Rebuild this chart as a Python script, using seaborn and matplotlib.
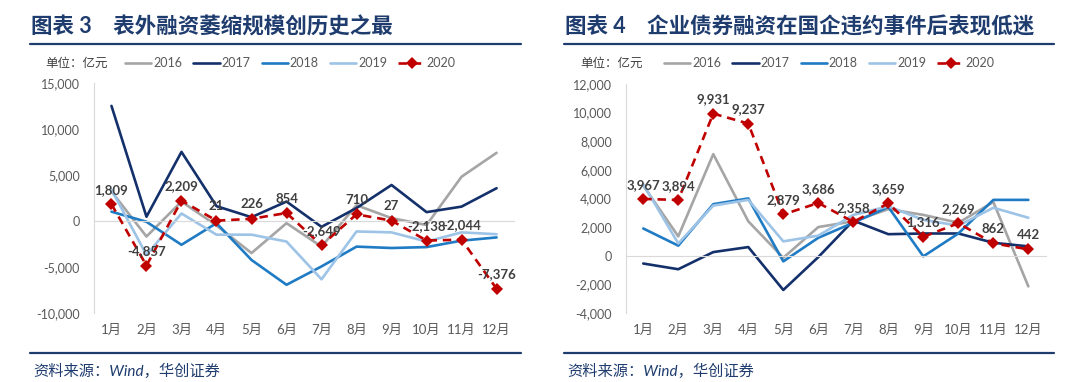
import matplotlib
matplotlib.use("Agg")
import matplotlib.pyplot as plt
from matplotlib.lines import Line2D
import seaborn as sns
import pandas as pd

# months on the category axis
months = ["1月", "2月", "3月", "4月", "5月", "6月", "7月", "8月", "9月", "10月", "11月", "12月"]
years = ["2016", "2017", "2018", "2019", "2020"]

# chart 3: off-balance-sheet financing (亿元)
off_2016 = [3200, -1700, 2100, -500, -3500, -250, -2800, 1700, 300, -450, 4800, 7400]
off_2017 = [12500, 450, 7500, 1600, 400, 2100, -650, 1400, 3900, 950, 1550, 3550]
off_2018 = [1000, -100, -2600, -250, -4250, -6950, -4950, -2800, -2950, -2850, -2150, -1800]
off_2019 = [3400, -3700, 800, -1500, -1500, -2250, -6350, -1150, -1250, -2250, -1250, -1450]
off_2020 = [1809, -4857, 2209, 21, 226, 854, -2649, 710, 27, -2138, -2044, -7376]

# chart 4: corporate bond financing (亿元)
bond_2016 = [4900, 1350, 7100, 2400, -150, 2000, 2400, 3250, 2850, 2300, 3750, -2150]
bond_2017 = [-550, -950, 250, 600, -2400, -100, 2450, 1500, 1550, 1550, 900, 650]
bond_2018 = [1900, 700, 3600, 4000, -400, 1250, 2300, 3400, -50, 1550, 3900, 3900]
bond_2019 = [5000, 850, 3500, 3900, 1000, 1400, 2850, 3450, 2500, 2100, 3350, 2650]
bond_2020 = [3967, 3894, 9931, 9237, 2879, 3686, 2358, 3659, 1316, 2269, 862, 442]

colors = {"2016": "#A5A5A5", "2017": "#14306B", "2018": "#1F7BC4",
          "2019": "#9DC3E6", "2020": "#C00000"}

sns.set_style("white")
plt.rcParams["font.family"] = ["Lato", "Noto Sans CJK SC", "DejaVu Sans"]
plt.rcParams["axes.unicode_minus"] = False

fig = plt.figure(figsize=(10.8, 3.82), dpi=100)

navy = "#1F3C6E"
grey_txt = "#595959"


def draw_panel(rect, series, ylim, yticks, title, unit_x, legend_x, title_x, line_x):
    ax = fig.add_axes(rect)
    idx = list(range(len(months)))
    for yr, vals in zip(years, series):
        df = pd.DataFrame({"m": idx, "v": vals})
        if yr == "2020":
            sns.lineplot(data=df, x="m", y="v", ax=ax, color=colors[yr], lw=1.9,
                         marker="D", markersize=6.5, markeredgewidth=0,
                         dashes=False, sort=False, label=yr, zorder=5)
            ax.lines[-1].set_dashes([3.2, 2.2])
            for i, v in zip(idx, vals):
                ax.annotate(f"{v:,}", (i, v), xytext=(0, 6), textcoords="offset points",
                            ha="center", va="bottom", fontsize=9.5, fontweight="bold",
                            color="#404040", zorder=6)
        else:
            sns.lineplot(data=df, x="m", y="v", ax=ax, color=colors[yr], lw=1.9,
                         sort=False, label=yr)

    ax.set_xlim(-0.5, len(months) - 0.5)
    ax.set_ylim(*ylim)
    ax.set_yticks(yticks)
    ax.set_yticklabels([f"{t:,}" for t in yticks])
    ax.tick_params(axis="y", length=0, pad=10, labelsize=9, labelcolor=grey_txt)
    ax.set_xlabel("")
    ax.set_ylabel("")

    # category axis sits on zero, with tick marks between months
    ax.spines["bottom"].set_position(("data", 0))
    ax.spines["bottom"].set_color("#D9D9D9")
    ax.spines["left"].set_color("#D9D9D9")
    ax.spines["top"].set_visible(False)
    ax.spines["right"].set_visible(False)
    ax.set_xticks([i + 0.5 for i in idx[:-1]])
    ax.tick_params(axis="x", length=4, color="#D9D9D9", labelbottom=False)

    sec = ax.secondary_xaxis("bottom")
    sec.set_xticks(idx)
    sec.set_xticklabels(months)
    sec.tick_params(length=0, pad=8, labelsize=9.5, labelcolor=grey_txt)
    sec.spines["bottom"].set_visible(False)

    ax.legend(loc="center left", bbox_to_anchor=(legend_x, 0.835),
              bbox_transform=fig.transFigure, ncol=5, frameon=False, fontsize=9,
              handlelength=2.1, handletextpad=0.15, columnspacing=0.9,
              borderpad=0, borderaxespad=0, labelcolor=grey_txt)

    fig.text(unit_x, 0.835, "单位：亿元", fontsize=9, color="#404040", va="center")
    fig.text(title_x, 0.929, title, fontsize=15.5, fontweight="bold", color=navy,
             va="center")
    fig.add_artist(Line2D(line_x, [0.885, 0.885], color=navy, lw=1.6))
    fig.add_artist(Line2D(line_x, [0.075, 0.075], color=navy, lw=1.6))
    fig.text(title_x + 0.002, 0.027, "资料来源：Wind，华创证券", fontsize=11,
             color=navy, va="center", style="italic")
    return ax


draw_panel([0.087, 0.181, 0.389, 0.602],
           [off_2016, off_2017, off_2018, off_2019, off_2020],
           (-10000, 15000), [-10000, -5000, 0, 5000, 10000, 15000],
           "图表 3　表外融资萎缩规模创历史之最", 0.042, 0.1157, 0.0285, [0.028, 0.482])

draw_panel([0.5794, 0.181, 0.389, 0.599],
           [bond_2016, bond_2017, bond_2018, bond_2019, bond_2020],
           (-4000, 12000), list(range(-4000, 12001, 2000)),
           "图表 4　企业债券融资在国企违约事件后表现低迷", 0.5375, 0.6148, 0.523, [0.522, 0.976])

fig.savefig("out.png", dpi=100)
plt.close(fig)
